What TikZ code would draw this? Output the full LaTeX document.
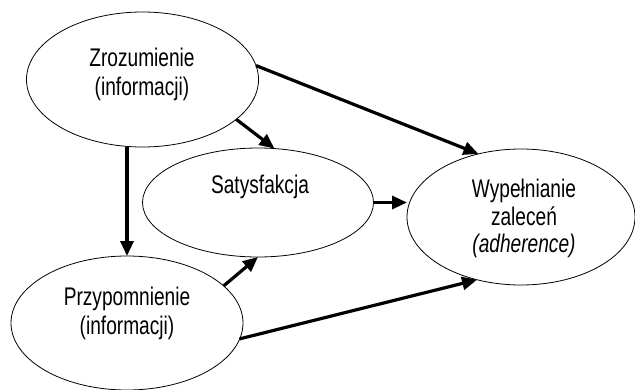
\documentclass[tikz,border=0pt]{standalone}
\usepackage{fontspec}
\setmainfont{Liberation Sans}[FakeStretch=0.75]
\usetikzlibrary{shapes.geometric,arrows.meta}
\begin{document}
\begin{tikzpicture}[x=1pt,y=-1pt,
  oval/.style={ellipse,draw,line width=0.8pt,inner sep=0pt,outer sep=0pt},
  lbl/.style={anchor=base,inner sep=0pt,font=\fontsize{25.5}{29}\selectfont},
  arr/.style={line width=3.2pt,-{Triangle[length=15pt,width=13pt]}}]
\useasboundingbox (0,0) rectangle (635,389);
\node[oval,minimum width=232pt,minimum height=135pt] (z) at (142.5,79.5) {};
\node[oval,minimum width=231pt,minimum height=109pt] (s) at (258,202.5) {};
\node[oval,minimum width=228pt,minimum height=136pt] (w) at (521,217) {};
\node[oval,minimum width=232pt,minimum height=134pt] (p) at (127,323) {};
\node[lbl] (z1) at (142,66.7) {Zrozumienie};
\node[lbl] (z2) at (142,95.7) {(informacji)};
\node[lbl] (s1) at (260,193.3) {Satysfakcja};
\node[lbl] (p1) at (127,305) {Przypomnienie};
\node[lbl] (p2) at (127,334) {(informacji)};
\node[lbl] (w1) at (524,197) {Wypełnianie};
\node[lbl] (w2) at (524,225) {zaleceń};
\node[lbl] (w3) at (524,252) {\textit{(adherence)}};
\draw[arr] (z.7) -- (w.124);
\draw[arr] (z.-23) -- (s.73);
\draw[arr] (p.north |- z.south) -- (p.north);
\draw[arr] (p.21) -- (s.south);
\draw[arr] (s.east) -- (w.west |- s.east);
\draw[arr] (p.-8) -- (w.235);
\end{tikzpicture}
\end{document}
